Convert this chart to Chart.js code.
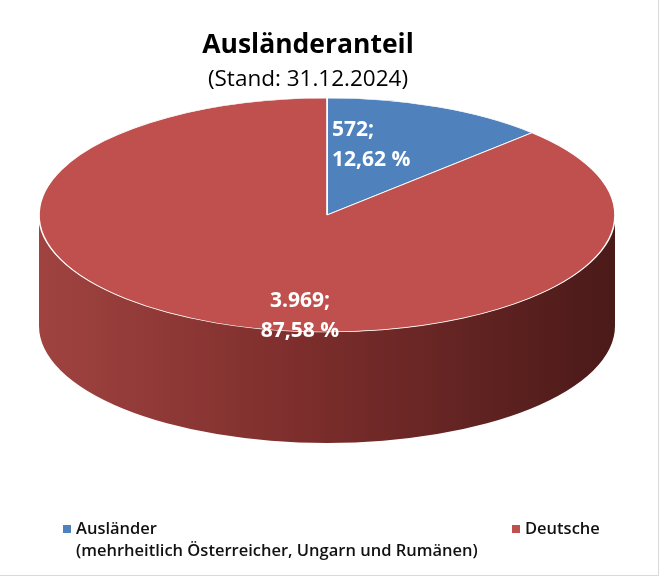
<!DOCTYPE html>
<html><head><meta charset="utf-8">
<script src="https://cdn.jsdelivr.net/npm/chart.js@4"></script>
<style>
body{margin:0;width:660px;height:577px;overflow:hidden;background:#fff;font-family:"Open Sans",Lato,sans-serif;}
#wrap{position:relative;width:658px;height:575px;border-right:1px solid #d9d9d9;border-bottom:1px solid #d9d9d9;}
canvas{position:absolute;left:0;top:0;}
.t{position:absolute;left:0;width:616px;text-align:center;color:#000;}
.lg{position:absolute;font-size:16.5px;font-weight:600;color:#111;line-height:22px;}
.sw{display:inline-block;width:8px;height:8px;margin-right:5px;vertical-align:1px;}
</style></head><body>
<div id="wrap">
<canvas id="c" width="658" height="575"></canvas>
<div class="t" style="top:25px;font-size:26.5px;font-weight:700;">Ausländeranteil</div>
<div class="t" style="top:62px;font-size:22.5px;">(Stand: 31.12.2024)</div>
<div class="lg" style="left:63px;top:517px;"><span class="sw" style="background:#4f81bd"></span>Ausländer<br><span style="margin-left:13px">(mehrheitlich Österreicher, Ungarn und Rumänen)</span></div>
<div class="lg" style="left:512px;top:517px;"><span class="sw" style="background:#c0504d"></span>Deutsche</div>
</div>
<script>
const categories = ["Ausländer", "Deutsche"];
const counts = [572, 3969];
const percents = ["12,62 %", "87,58 %"];
const countLabels = ["572;", "3.969;"];

const colors = ["#4f81bd", "#c0504d"];
const E = {cx:327, cy:215, rx:288, ry:117, depth:111};
const labelPos = [{x:332,y:145,align:'left'},{x:300,y:316,align:'center'}];

const pie3d = {
  id:'pie3d',
  beforeDatasetsDraw(chart){
    const ctx = chart.ctx, arc = chart.getDatasetMeta(0).data[0];
    ctx.save();
    const g = ctx.createLinearGradient(E.cx-E.rx,0,E.cx+E.rx,0);
    g.addColorStop(0,'#a04340'); g.addColorStop(0.45,'#7d2e2c'); g.addColorStop(1,'#4a1a19');
    ctx.beginPath();
    ctx.ellipse(E.cx,E.cy,E.rx,E.ry,0,0,Math.PI);
    ctx.ellipse(E.cx,E.cy+E.depth,E.rx,E.ry,0,Math.PI,0,true);
    ctx.closePath(); ctx.fillStyle=g; ctx.fill();
    ctx.restore();
    ctx.save();
    const r = arc.outerRadius;
    ctx.translate(E.cx,E.cy);
    ctx.scale(E.rx/r, E.ry/r);
    ctx.translate(-arc.x,-arc.y);
  },
  afterDatasetsDraw(chart){
    const ctx = chart.ctx;
    ctx.restore();
    ctx.save();
    ctx.fillStyle='#fff';
    ctx.font='bold 21px "Open Sans", Lato, sans-serif';
    ctx.textBaseline='middle';
    chart.data.datasets[0].data.forEach((v,i)=>{
      const p = labelPos[i];
      ctx.textAlign=p.align;
      ctx.fillText(countLabels[i], p.x, p.y-15);
      ctx.fillText(percents[i], p.x, p.y+15);
    });
    ctx.restore();
  }
};

new Chart(document.getElementById('c'),{
  type:'pie',
  data:{labels:categories,datasets:[{data:counts,backgroundColor:colors,borderColor:'#fff',borderWidth:1.5,hoverOffset:0}]},
  options:{responsive:false,animation:false,rotation:0,
    layout:{padding:20},
    plugins:{legend:{display:false},tooltip:{enabled:false},title:{display:false}}},
  plugins:[pie3d]
});
</script>
</body></html>
